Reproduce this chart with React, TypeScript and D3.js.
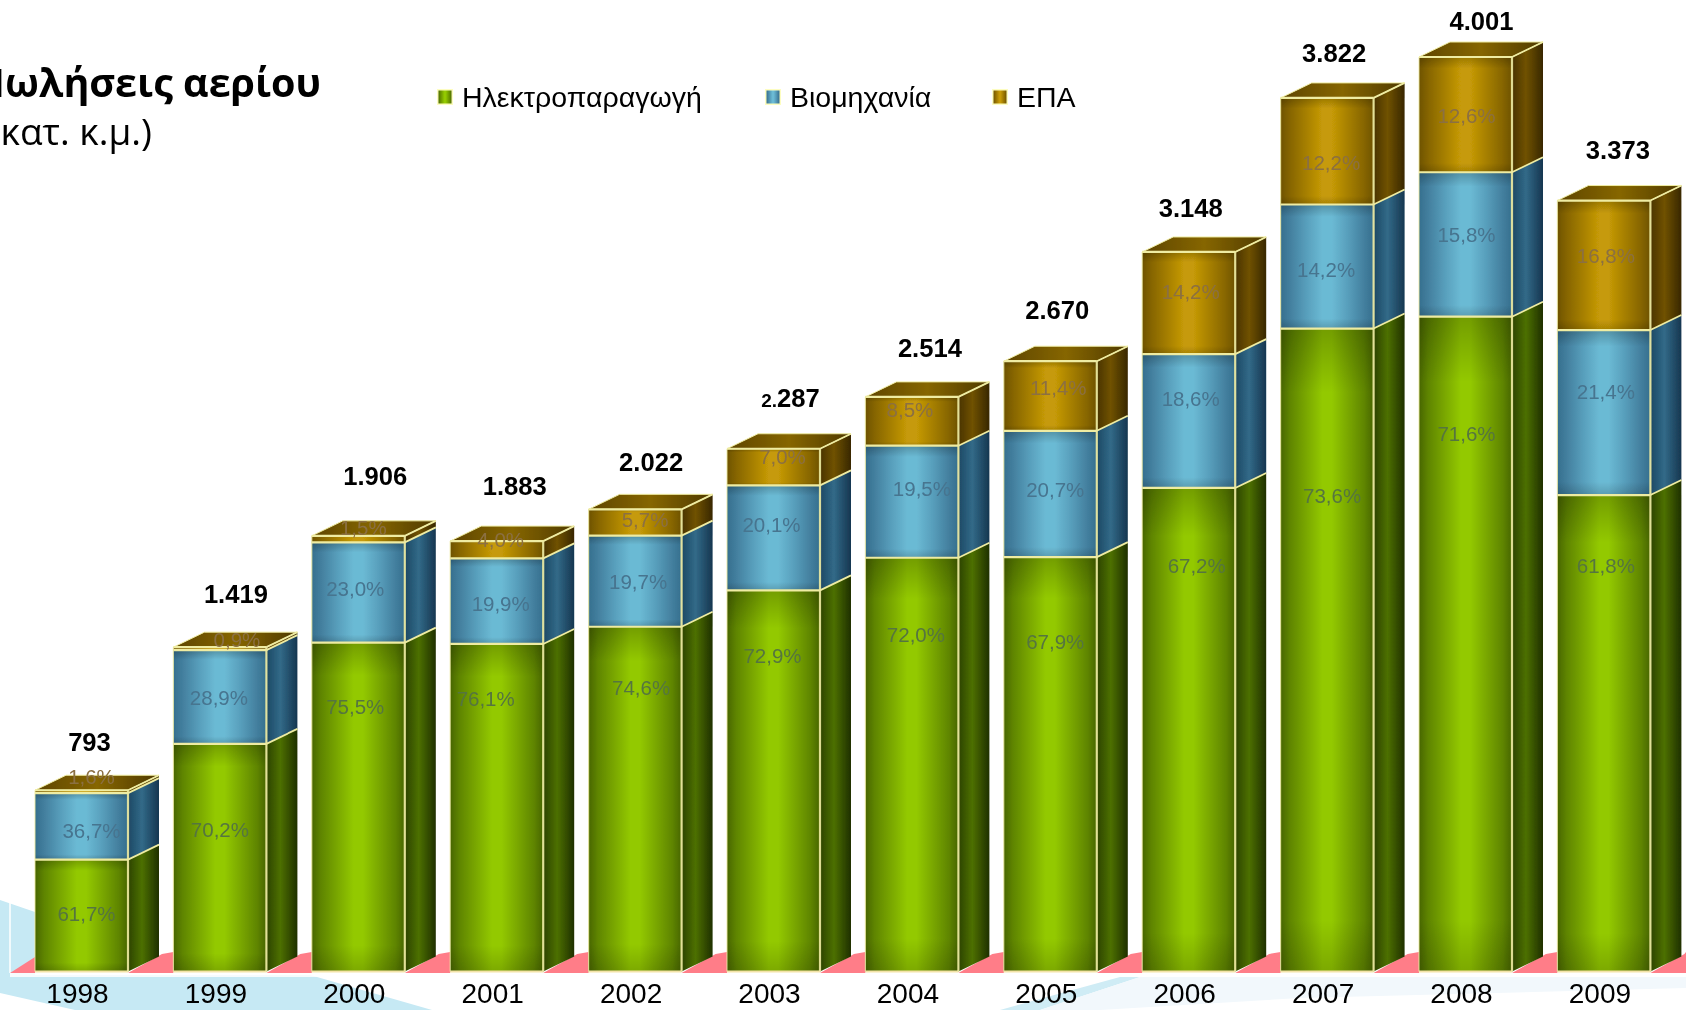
import React from "react";
import * as d3 from "d3";

const years = ["1998","1999","2000","2001","2002","2003","2004","2005","2006","2007","2008","2009"];
const totals = [793,1419,1906,1883,2022,2287,2514,2670,3148,3822,4001,3373];
const totalLabels = ["793","1.419","1.906","1.883","2.022","2.287","2.514","2.670","3.148","3.822","4.001","3.373"];
const powerShare = [61.7,70.2,75.5,76.1,74.6,72.9,72.0,67.9,67.2,73.6,71.6,61.8];
const industryShare = [36.7,28.9,23.0,19.9,19.7,20.1,19.5,20.7,18.6,14.2,15.8,21.4];
const epaShare = [1.6,0.9,1.5,4.0,5.7,7.0,8.5,11.4,14.2,12.2,12.6,16.8];
const seriesNames = ["Ηλεκτροπαραγωγή","Βιομηχανία","ΕΠΑ"];

// layout only: label nudges relative to computed bar / segment centres
const totalDx = [8,16,17,18,16,17,18,7,2,7,16,14];
const totalDy = [-48,-53,-60,-55,-48,-51,-49,-51,-44,-45,-36,-51];
const powerDx = [5,0,-3,-11,6,-1,4,5,8,5,1,2];
const powerDy = [-2,-28,-100,-109,-111,-125,-130,-123,-164,-154,-210,-168];
const industryDx = [10,-1,-3,4,3,-2,10,5,2,-1,1,2];
const industryDy = [4,1,-4,2,0,-13,-13,-4,-22,3,-10,-21];
const epaDx = [10,17,5,4,10,9,-2,8,2,4,1,2];
const epaDy = [-15,-9,-11,-10,-3,-10,-12,-8,-11,11,1,-10];

const W = 1686, H = 1010;
const DX = 31, DY = 15;
const x = d3.scaleBand<string>().domain(years).range([35, 1650.4]).paddingInner(0.328);
const y = d3.scaleLinear().domain([0, 4001]).range([971.5, 57]);
const fmt = (v: number) => v.toFixed(1).replace(".", ",") + "%";
const sans = "'Liberation Sans', Arial, sans-serif";

const palettes = [
  { id: "g", c0: "#486600", c1: "#5f8500", c2: "#7aa800", c3: "#93c900", s1: "#2c4300", s2: "#4d7000", s3: "#1f3000", label: "#55753f" },
  { id: "b", c0: "#356f8e", c1: "#437f9e", c2: "#589fbc", c3: "#6bbad4", s1: "#1c4864", s2: "#326a88", s3: "#163650", label: "#47748f" },
  { id: "e", c0: "#6e5300", c1: "#866500", c2: "#a78003", c3: "#c69a07", s1: "#493300", s2: "#705200", s3: "#382700", label: "#8b6f42" },
];
const shares = [powerShare, industryShare, epaShare];
const dxs = [powerDx, industryDx, epaDx];
const dys = [powerDy, industryDy, epaDy];
const CREAM = "#efeca2";

export default function App() {
  const bw = x.bandwidth();
  const rows = years.map((yr, i) => {
    let acc = 0;
    const segs = shares.map((s, k) => {
      const v = (s[i] / 100) * totals[i];
      const seg = { k, v0: acc, v1: acc + v, share: s[i] };
      acc += v;
      return seg;
    });
    return { yr, i, x0: x(yr)!, segs };
  });
  return (
    <svg width={W} height={H} viewBox={`0 0 ${W} ${H}`} style={{ position: "fixed", left: 0, top: 0, display: "block", background: "#fff" }}>
      <defs>
        {palettes.map((p) => (
          <React.Fragment key={p.id}>
            <linearGradient id={`f-${p.id}`} x1="0" x2="1" y1="0" y2="0">
              <stop offset="0" stopColor={p.c0} />
              <stop offset="0.1" stopColor={p.c1} />
              <stop offset="0.28" stopColor={p.c2} />
              <stop offset="0.45" stopColor={p.c3} />
              <stop offset="0.55" stopColor={p.c3} />
              <stop offset="0.72" stopColor={p.c2} />
              <stop offset="0.9" stopColor={p.c1} />
              <stop offset="1" stopColor={p.c0} />
            </linearGradient>
            <linearGradient id={`s-${p.id}`} x1="0" x2="1" y1="0" y2="0">
              <stop offset="0" stopColor={p.s1} />
              <stop offset="0.45" stopColor={p.s2} />
              <stop offset="1" stopColor={p.s3} />
            </linearGradient>
          </React.Fragment>
        ))}
        <linearGradient id="shade" x1="0" x2="0" y1="0" y2="1">
          <stop offset="0" stopColor="#000" stopOpacity="0.22" />
          <stop offset="0.1" stopColor="#000" stopOpacity="0" />
          <stop offset="0.92" stopColor="#000" stopOpacity="0" />
          <stop offset="1" stopColor="#000" stopOpacity="0.16" />
        </linearGradient>
        <linearGradient id="top" x1="0" x2="1" y1="0" y2="0">
          <stop offset="0" stopColor="#5e4500" />
          <stop offset="0.5" stopColor="#866600" />
          <stop offset="1" stopColor="#4f3a00" />
        </linearGradient>
        <filter id="soft" x="-10%" y="-20%" width="120%" height="140%">
          <feGaussianBlur stdDeviation="0.7" />
        </filter>
        <filter id="softer" x="-20%" y="-20%" width="140%" height="140%">
          <feGaussianBlur stdDeviation="0.4" />
        </filter>
        <filter id="bars" x="0" y="0" width={W} height={H} filterUnits="userSpaceOnUse">
          <feGaussianBlur stdDeviation="0.55" />
        </filter>
      </defs>

      {/* background swoosh */}
      <path d="M0,900 L35,912 L35,975 L0,975 Z" fill="#c6e9f4" />
      <path d="M0,975 L310,975 L432,1010 L75,1010 L0,993 Z" fill="#c6e9f4" />
      <path d="M1120,977 L1140,977 L1040,1010 L1000,1010 Z" fill="#cfecf5" />
      <path d="M1140,977 L1686,977 L1686,988 L1300,998 L1100,1010 L1040,1010 Z" fill="#f2f8fc" />
      <path d="M10,900 V973" stroke="#fff" strokeWidth="1.5" fill="none" />

      {/* floor */}
      <path d="M10,973 L35,957 L35,973 Z" fill="#ff7d88" />
      {rows.map((r) => {
        const right = r.x0 + bw;
        const next = r.i < years.length - 1 ? x(years[r.i + 1])! : W;
        return <path key={r.yr} d={`M${right},973 L${right + DX + 3},954 L${next},952 L${next},973 Z`} fill="#ff7d88" />;
      })}
      <path d={`M10,975 H${W}`} stroke="#fff" strokeWidth="4" opacity="0.85" />

      {/* bars */}
      <g filter="url(#bars)">
        {rows.map((r) => {
          const x0 = r.x0, x1 = r.x0 + bw;
          const topSeg = r.segs[2];
          const yt = y(topSeg.v1);
          return (
            <g key={r.yr}>
              {r.segs.map((s) => {
                const p = palettes[s.k];
                const a = y(s.v1), b = y(s.v0);
                return (
                  <g key={s.k}>
                    <path d={`M${x1},${a} L${x1 + DX},${a - DY} L${x1 + DX},${b - DY} L${x1},${b} Z`} fill={`url(#s-${p.id})`} />
                    <path d={`M${x1},${b} L${x1 + DX},${b - DY}`} stroke={CREAM} strokeWidth={s.k === 0 ? 0 : 1.8} />
                    <rect x={x0} y={a} width={bw} height={b - a} fill={`url(#f-${p.id})`} />
                    <rect x={x0} y={a} width={bw} height={b - a} fill="url(#shade)" />
                    {s.k > 0 && <path d={`M${x0},${b} H${x1}`} stroke={CREAM} strokeWidth="2.2" />}
                  </g>
                );
              })}
              <path d={`M${x0},${yt} L${x0 + DX},${yt - DY} L${x1 + DX},${yt - DY} L${x1},${yt} Z`} fill="url(#top)" stroke={CREAM} strokeWidth="1" strokeLinejoin="round" />
              <path d={`M${x1},${yt} L${x1 + DX},${yt - DY}`} stroke={CREAM} strokeWidth="1.8" />
              <path d={`M${x0},${yt} H${x1}`} stroke={CREAM} strokeWidth="2.2" />
              <path d={`M${x0},${y(0)} V${yt}`} stroke={CREAM} strokeWidth="1.2" opacity="0.75" />
              <path d={`M${x1},${y(0)} V${yt}`} stroke={CREAM} strokeWidth="2.2" opacity="0.9" />
              <path d={`M${x0},${y(0)} H${x1}`} stroke="#f3e3a8" strokeWidth="2" />
            </g>
          );
        })}
      </g>

      {/* share labels */}
      {rows.map((r) =>
        r.segs.map((s) => (
          <text
            key={`${r.yr}-${s.k}`}
            x={r.x0 + bw / 2 + dxs[s.k][r.i]}
            y={(y(s.v0) + y(s.v1)) / 2 + dys[s.k][r.i]}
            dy="0.36em"
            textAnchor="middle"
            fontFamily={sans}
            fontSize="20.5"
            fill={palettes[s.k].label}
            filter="url(#soft)"
          >
            {fmt(s.share)}
          </text>
        ))
      )}

      {/* totals */}
      {rows.map((r) => {
        const lab = totalLabels[r.i];
        const small = r.yr === "2003";
        return (
          <text
            key={r.yr}
            x={r.x0 + bw / 2 + totalDx[r.i]}
            y={y(totals[r.i]) + totalDy[r.i]}
            dy="0.36em"
            textAnchor="middle"
            fontFamily={sans}
            fontWeight="700"
            fontSize="25.6"
            fill="#000"
            filter="url(#softer)"
          >
            {small ? (
              <>
                <tspan fontSize="19">{lab.slice(0, 2)}</tspan>
                {lab.slice(2)}
              </>
            ) : lab}
          </text>
        );
      })}

      {/* category axis */}
      {rows.map((r) => (
        <text key={r.yr} x={r.x0 + bw / 2 - 4} y={1003} textAnchor="middle" fontFamily={sans} fontSize="28" fill="#000" filter="url(#softer)">
          {r.yr}
        </text>
      ))}

      {/* title */}
      <text x={321} y={97} textAnchor="end" fontFamily="'Open Sans', 'Noto Sans', sans-serif" fontWeight="700" fontSize="39.5" fill="#000">
        Πωλήσεις αερίου
      </text>
      <text x={152} y={145} textAnchor="end" fontFamily="'Open Sans', 'Noto Sans', sans-serif" fontSize="37" fill="#000">
        (εκατ. κ.μ.)
      </text>

      {/* legend */}
      {seriesNames.map((n, k) => {
        const sx = [437, 765, 992][k];
        const tx = [462, 790, 1017][k];
        const p = palettes[k];
        return (
          <g key={n}>
            <rect x={sx} y={89} width={16} height={16} fill="#fdfdc0" />
            <rect x={sx + 1.5} y={90.5} width={13} height={13} fill={`url(#f-${p.id})`} />
            <text x={tx} y={107} fontFamily={sans} fontSize="28.5" fill="#000" filter="url(#softer)">
              {n}
            </text>
          </g>
        );
      })}
    </svg>
  );
}
